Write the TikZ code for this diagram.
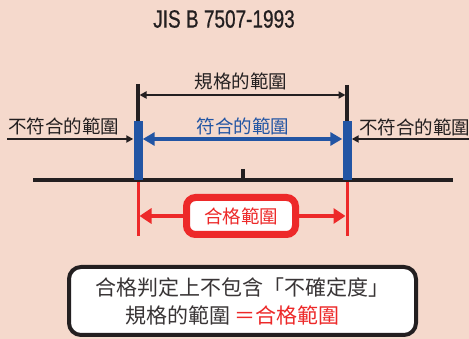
\documentclass[tikz,border=0pt]{standalone}
\usepackage{fontspec}
\setmainfont{Noto Sans CJK TC}
\newfontfamily\titlefont[FakeStretch=0.76, FakeBold=0.6]{Liberation Sans}
\usetikzlibrary{arrows.meta, positioning}
\definecolor{bgpeach}{RGB}{245,217,204}
\definecolor{okblue}{RGB}{34,85,164}
\definecolor{passred}{RGB}{237,41,41}
\definecolor{inkblack}{RGB}{35,31,32}

\begin{document}
\begin{tikzpicture}[x=1pt, y=-1pt, font=\fontsize{18.5}{20}\selectfont, inkblack]
  \fill[bgpeach] (0,0) rectangle (469,339);
  \useasboundingbox (0,0) rectangle (469,339);
  % Title
  \node[font=\titlefont\fontsize{25}{27}\selectfont] (title) at (224,19) {JIS B 7507-1993};
  % Limit bars
  \node[fill=okblue, minimum width=9pt, minimum height=59pt, inner sep=0pt] (lBar) at (138,150.5) {};
  \node[fill=okblue, minimum width=9pt, minimum height=59pt, inner sep=0pt] (rBar) at (347,150.5) {};
  \coordinate (lTop) at (138,84);
  \coordinate (rTop) at (347,85);
  \coordinate (lBot) at (138,236);
  \coordinate (rBot) at (347,236);
  \draw[line width=3.5pt] (lTop) -- (lBar.north);
  \draw[line width=3.5pt] (rTop) -- (rBar.north);
  \draw[passred, line width=3pt] (lBar.south) -- (lBot);
  \draw[passred, line width=3pt] (rBar.south) -- (rBot);
  % Axis
  \coordinate (axL) at (33,180);
  \coordinate (axR) at (453,180);
  \coordinate (mid) at (243,169);
  \draw[line width=4.5pt] (axL) -- (axR);
  \draw[line width=4pt] (mid) -- (mid |- axL);
  \node[fill=okblue, minimum width=9pt, minimum height=59pt, inner sep=0pt] at (lBar) {};
  \node[fill=okblue, minimum width=9pt, minimum height=59pt, inner sep=0pt] at (rBar) {};
  % Specification range
  \node (specLbl) at (241,81) {規格的範圍};
  \draw[{Triangle[length=7pt,width=7pt]}-{Triangle[length=7pt,width=7pt]}, line width=2pt]
    ([xshift=1.5pt]lTop |- 0,95) -- ([xshift=-1.5pt]rTop |- 0,95);
  % Conforming range
  \coordinate (arrY) at (0,139);
  \node[okblue] (okLbl) at (243,126) {符合的範圍};
  \draw[okblue, {Triangle[length=12pt,width=13pt]}-{Triangle[length=12pt,width=13pt]}, line width=3.5pt]
    (lBar.east |- arrY) -- (rBar.west |- arrY);
  % Non-conforming ranges
  \node (ngL) at (64,126) {不符合的範圍};
  \node[anchor=west, inner sep=0pt] (ngR) at (359,127) {不符合的範圍};
  \coordinate (ngLend) at (7,139);
  \coordinate (ngRend) at (469,139);
  \draw[-{Triangle[length=7pt,width=7pt]}, line width=2pt] (ngLend) -- (lBar.west |- arrY);
  \draw[-{Triangle[length=7pt,width=7pt]}, line width=2pt] (ngRend) -- (rBar.east |- arrY);
  % Acceptance range
  \node[draw=passred, line width=7pt, fill=white, rounded corners=9pt, text=passred,
        minimum width=109pt, minimum height=37pt, inner sep=0pt] (pass) at (241,216) {合格範圍};
  \draw[passred, {Triangle[length=12pt,width=15pt]}-, line width=3.5pt]
    ([xshift=1.5pt]lBot |- pass) -- (pass.west);
  \draw[passred, -{Triangle[length=12pt,width=15pt]}, line width=3.5pt]
    (pass.east) -- ([xshift=-1.5pt]rBot |- pass);
  % Note
  \node[draw, line width=4pt, fill=white, rounded corners=12pt, minimum width=347pt,
        minimum height=68pt, align=center, font=\fontsize{21}{28}\selectfont, text=inkblack!90]
        (note) at (242.5,301)
        {合格判定上不包含「不確定度」\\規格的範圍 {\color{passred}＝合格範圍}\hspace*{20pt}};
\end{tikzpicture}
\end{document}
